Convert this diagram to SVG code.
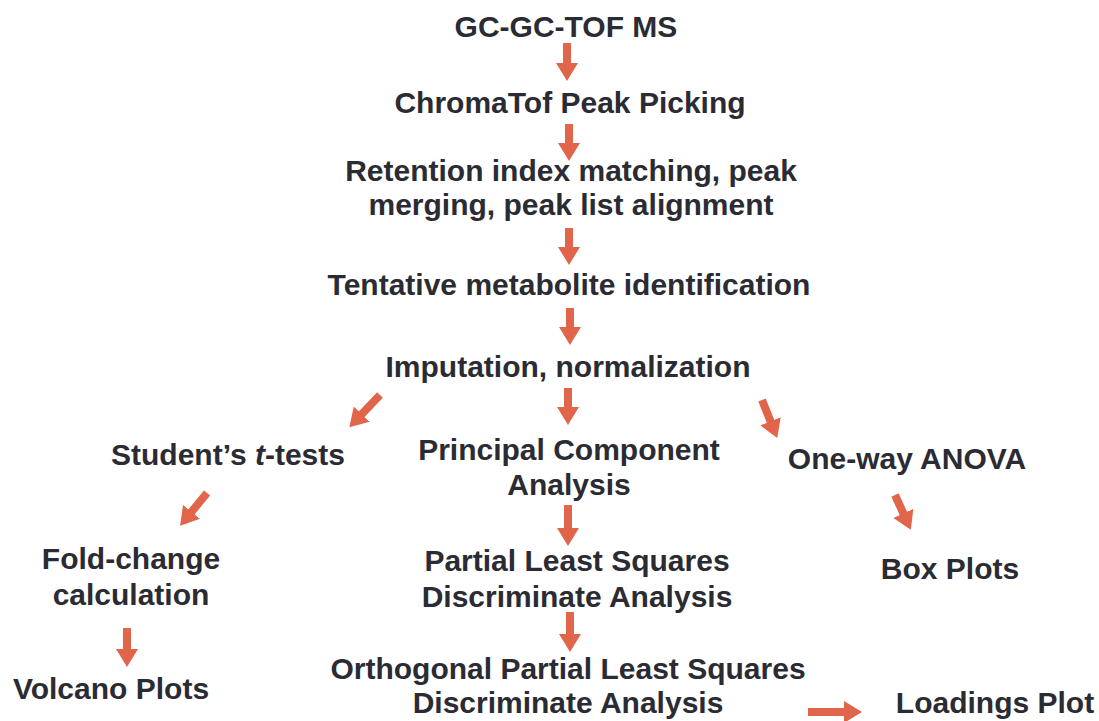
<svg xmlns="http://www.w3.org/2000/svg" width="1099" height="721" viewBox="0 0 1099 721">
<style>
text{font-family:"Liberation Sans",Arial,sans-serif;font-weight:bold;font-size:30px;fill:#2b2b33;text-anchor:middle}
.a{fill:none;stroke:#e0654a;stroke-width:8;marker-end:url(#h)}
</style>
<defs>
<marker id="h" markerUnits="userSpaceOnUse" markerWidth="24" markerHeight="24" viewBox="0 0 24 24" refX="4" refY="12" orient="auto">
<path d="M0,1 L18,12 L0,23 Z" fill="#e0654a"/>
</marker>
</defs>
<rect width="1099" height="721" fill="#fff"/>
<g id="n1"><text x="566" y="37">GC-GC-TOF MS</text></g>
<g id="n2"><text x="570" y="113">ChromaTof Peak Picking</text></g>
<g id="n3"><text x="571" y="181">Retention index matching, peak</text><text x="571" y="215">merging, peak list alignment</text></g>
<g id="n4"><text x="569" y="295">Tentative metabolite identification</text></g>
<g id="n5"><text x="568" y="377">Imputation, normalization</text></g>
<g id="n6"><text x="228" y="465">Student’s <tspan font-style="italic">t</tspan>-tests</text></g>
<g id="n7"><text x="569" y="460">Principal Component</text><text x="569" y="495">Analysis</text></g>
<g id="n8"><text x="907" y="469">One-way ANOVA</text></g>
<g id="n9"><text x="131" y="569">Fold-change</text><text x="131" y="605">calculation</text></g>
<g id="n10"><text x="577" y="571">Partial Least Squares</text><text x="577" y="607">Discriminate Analysis</text></g>
<g id="n11"><text x="950" y="579">Box Plots</text></g>
<g id="n12"><text x="111" y="699">Volcano Plots</text></g>
<g id="n13"><text x="568" y="679">Orthogonal Partial Least Squares</text><text x="568" y="713">Discriminate Analysis</text></g>
<g id="n14"><text x="995" y="713">Loadings Plot</text></g>
<g id="connectors">
<path class="a" d="M567,43 V67"/>
<path class="a" d="M569,124 V147"/>
<path class="a" d="M569,228 V251"/>
<path class="a" d="M570,308 V331"/>
<path class="a" d="M568,388 V411"/>
<path class="a" d="M380,395 L359,417"/>
<path class="a" d="M762,400 L772,425"/>
<path class="a" d="M207,493 L189,515"/>
<path class="a" d="M568,505 V532"/>
<path class="a" d="M895,495 L905,517"/>
<path class="a" d="M127,628 V653"/>
<path class="a" d="M570,612 V638"/>
<path class="a" d="M808,712 H848"/>
</g>
</svg>
